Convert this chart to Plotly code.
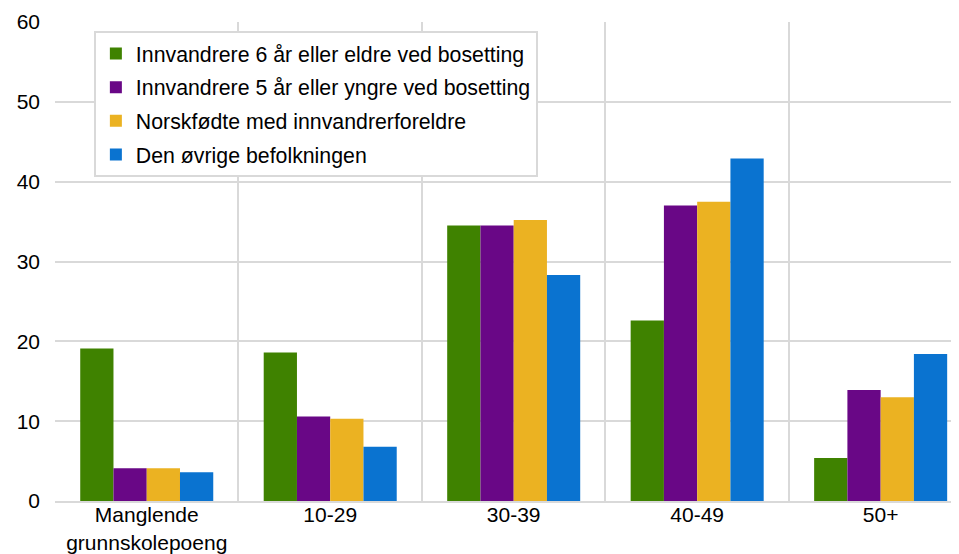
import plotly.graph_objects as go

categories = ["Manglende<br>grunnskolepoeng", "10-29", "30-39", "40-49", "50+"]
series_names = [
    "Innvandrere 6 år eller eldre ved bosetting",
    "Innvandrere 5 år eller yngre ved bosetting",
    "Norskfødte med innvandrerforeldre",
    "Den øvrige befolkningen",
]
innv6 = [19.1, 18.6, 34.5, 22.6, 5.4]
innv5 = [4.1, 10.6, 34.5, 37.0, 13.9]
norskfodte = [4.1, 10.3, 35.2, 37.5, 13.0]
ovrige = [3.6, 6.8, 28.3, 42.9, 18.4]
colors = ["#3F8200", "#690786", "#EBB222", "#0A73D0"]
y_ticks = [0, 10, 20, 30, 40, 50, 60]

fig = go.Figure()
for i, (name, vals) in enumerate(zip(series_names, [innv6, innv5, norskfodte, ovrige])):
    fig.add_trace(go.Bar(
        x=categories, y=vals, name=name, legendgroup=f"g{i}",
        marker=dict(color=colors[i], line=dict(width=0)),
    ))

grid = "#D9D9D9"
fig.update_layout(
    width=951, height=546,
    margin=dict(l=47, r=0, t=14, b=53),
    paper_bgcolor="white", plot_bgcolor="white",
    barmode="group", bargap=0.275, bargroupgap=0,
    font=dict(family="Liberation Sans, Arial, sans-serif", size=21, color="#000000"),
    showlegend=True,
    legend=dict(
        x=0.043, y=0.981, xanchor="left", yanchor="top",
        bgcolor="white", bordercolor=grid, borderwidth=2,
        font=dict(size=21.3), tracegroupgap=3, traceorder="grouped",
    ),
    xaxis=dict(
        type="category", range=[-0.5, 4.427], tickson="boundaries",
        showgrid=True, gridcolor=grid, gridwidth=2,
        showline=True, linecolor=grid, linewidth=2,
        ticks="", fixedrange=True, automargin=False,
        tickfont=dict(size=21), ticklabelstandoff=-6,
    ),
    yaxis=dict(
        range=[0, 60], tickvals=y_ticks, showgrid=True, gridcolor=grid, gridwidth=2,
        zeroline=False, showline=False, ticks="", ticklabelstandoff=14,
        automargin=False,
    ),
)
fig.write_html("out.html")
